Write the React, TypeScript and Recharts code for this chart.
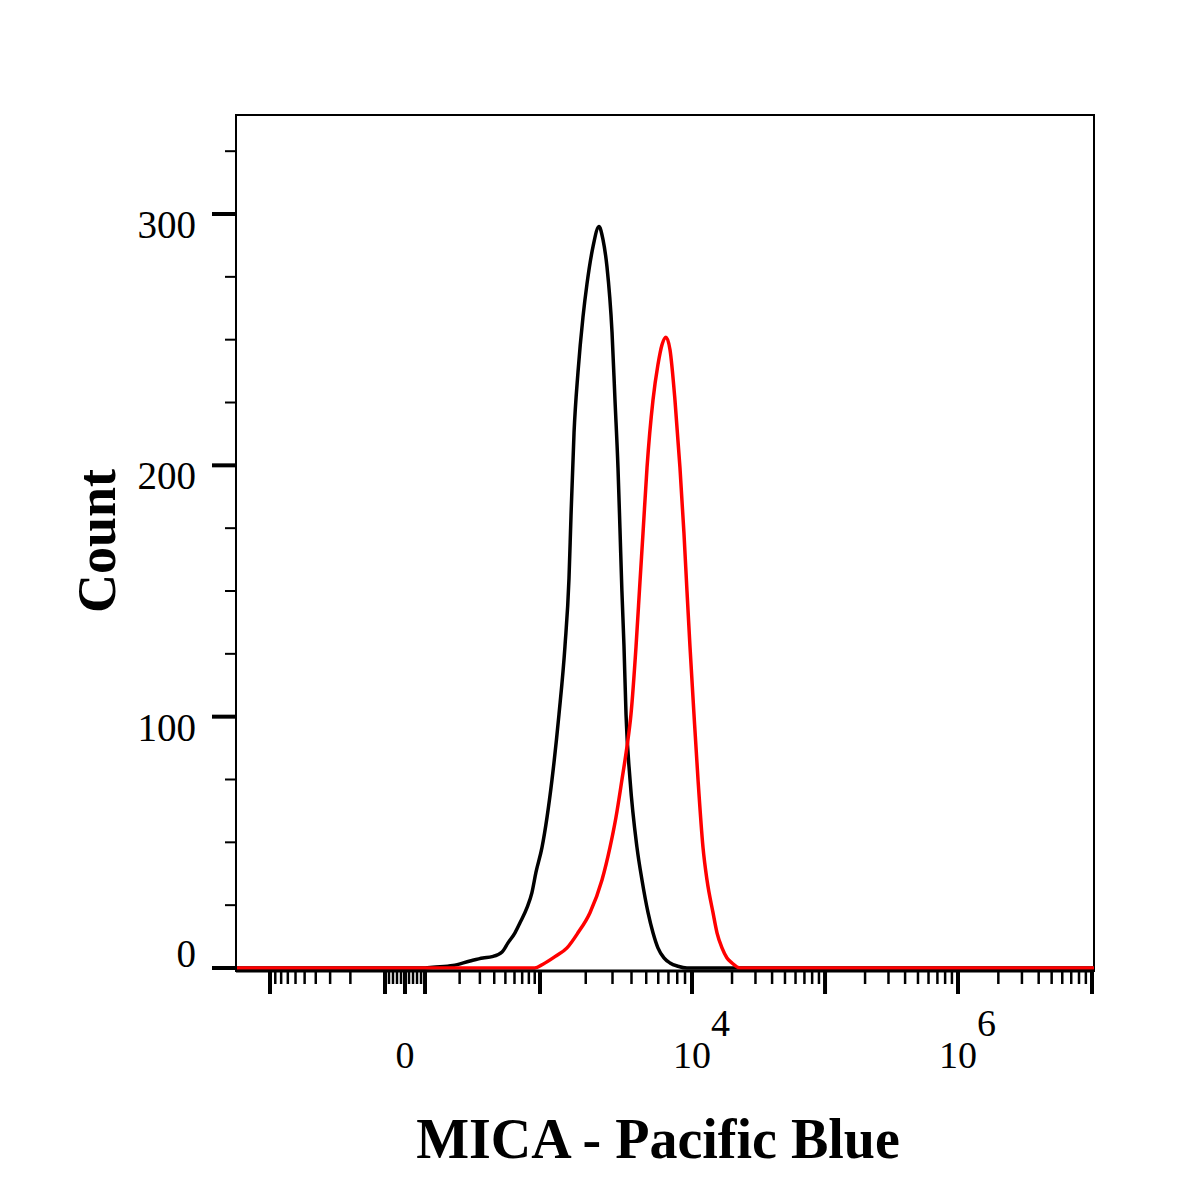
import { LineChart, Line, XAxis, YAxis, ReferenceArea } from "recharts";

// layout (chart box starts at the 8px body margin)
const W = 1192;
const H = 1192;
const PLOT_LEFT = 228;
const PLOT_TOP = 107;
const PLOT_RIGHT = 1086;
const PLOT_BOTTOM = 963;
const FONT = "'Liberation Serif', 'Times New Roman', serif";

// biexponential-like display: intensity -> display channel (0..1024)
const scaleAnchors: [number, number][] = [
  [-1000, 40.6],
  [-100, 177.8],
  [0, 201.7],
  [100, 225.6],
  [1000, 362.8],
  [1e4, 544.2],
  [1e5, 703.0],
  [1e6, 861.7],
  [1e7, 1021.6],
];

function toChannel(v: number) {
  let i = 0;
  while (i < scaleAnchors.length - 2 && v > scaleAnchors[i + 1][0]) i++;
  const [a, ca] = scaleAnchors[i];
  const [b, cb] = scaleAnchors[i + 1];
  let t;
  if (a * b > 0) {
    const la = Math.log10(Math.abs(a));
    const lb = Math.log10(Math.abs(b));
    t = (Math.log10(Math.abs(v)) - la) / (lb - la);
  } else {
    t = (v - a) / (b - a);
  }
  return ca + t * (cb - ca);
}

// unstained / isotype (black)
const blackIntensity = [
  -2000, 100, 117, 175, 246, 319, 383, 468, 527, 606, 670, 771, 851, 922, 1031,
  1200, 1334, 1460, 1552, 1600, 1675, 1778, 1918, 2036, 2233, 2443, 2594, 2759,
  2978, 3115, 3260, 3358, 3459, 3570, 3681, 3911, 4346, 4689, 5140, 5540, 5970,
  6540, 7167, 8090, 9270, 1.1e7,
];
const blackCount = [
  0, 0, 0.3, 1, 2.8, 4, 4.5, 6.4, 10, 14, 18, 24, 30, 38, 48, 75, 101, 128, 155,
  180, 213, 237, 259, 272, 287, 295, 290, 279, 253, 226, 199, 175, 150, 128, 101,
  75, 48, 35, 22, 14, 8, 4, 2, 0.7, 0, 0,
];

// MICA stained (red)
const redIntensity = [
  -2000, 900, 1046, 1255, 1506, 1778, 2133, 2558, 2887, 3162, 3463, 3734, 3970,
  4285, 4552, 4762, 5059, 5540, 5970, 6350, 6745, 7167, 7727, 8337, 8855, 9270,
  9700, 10350, 11100, 12100, 12970, 14390, 15420, 16810, 18330, 20000, 22960,
  1.1e7,
];
const redCount = [
  0, 0, 1.5, 4.5, 8, 14, 22, 35, 48, 60, 75, 88, 101, 128, 154, 173, 199, 226,
  240, 248, 251, 246, 226, 199, 173, 150, 128, 101, 75, 48, 35, 22, 14, 8, 4, 2,
  0, 0,
];

const xMajor = [-1000, -100, 0, 100, 1000, 1e4, 1e5, 1e6, 1e7];
const xMinor = [
  -900, -800, -700, -600, -500, -400, -300, -200,
  -80, -60, -40, -20, 20, 40, 60, 80,
  200, 300, 400, 500, 600, 700, 800, 900,
  2000, 3000, 4000, 5000, 6000, 7000, 8000, 9000,
  2e4, 3e4, 4e4, 5e4, 6e4, 7e4, 8e4, 9e4,
  2e5, 3e5, 4e5, 5e5, 6e5, 7e5, 8e5, 9e5,
  2e6, 3e6, 4e6, 5e6, 6e6, 7e6, 8e6, 9e6,
];
const xLabels: Record<number, [string, string]> = {
  0: ["0", ""],
  10000: ["10", "4"],
  1000000: ["10", "6"],
};

const yMajor = [0, 100, 200, 300];
const yTicks = [0, 25, 50, 75, 100, 125, 150, 175, 200, 225, 250, 275, 300, 325];

const X_MIN = 0;
const X_MAX = 1024;
const Y_MIN = -1.2;
const Y_MAX = 339.4;

const xTickDefs = [
  ...xMajor.map((v) => ({ v, major: true })),
  ...xMinor.map((v) => ({ v, major: false })),
].sort((a, b) => a.v - b.v);
const xTickValues = xTickDefs.map((d) => toChannel(d.v));

const blackData = blackIntensity.map((v, i) => ({ x: toChannel(v), y: blackCount[i] }));
const redData = redIntensity.map((v, i) => ({ x: toChannel(v), y: redCount[i] }));

function XTick(props: any) {
  const { x, y, index } = props;
  const def = xTickDefs[index];
  if (!def) return null;
  const label = xLabels[def.v];
  return (
    <g>
      <line
        x1={x}
        x2={x}
        y1={y}
        y2={y + (def.major ? 23 : 13)}
        stroke="#000"
        strokeWidth={def.major ? 4 : 2.5}
      />
      {label && (
        <text x={x} y={y + 97} textAnchor="middle" fontFamily={FONT} fontSize={38} fill="#000">
          {label[0]}
        </text>
      )}
      {label && label[1] && (
        <text x={x + 19} y={y + 65} textAnchor="start" fontFamily={FONT} fontSize={38} fill="#000">
          {label[1]}
        </text>
      )}
    </g>
  );
}

function YTick(props: any) {
  const { x, y, payload } = props;
  const v = payload.value;
  const major = yMajor.includes(v);
  return (
    <g>
      <line
        x1={x - (major ? 24 : 11)}
        x2={x}
        y1={y}
        y2={y}
        stroke="#000"
        strokeWidth={major ? 4 : 2}
      />
      {major && (
        <text
          x={x - 40}
          y={y + (v === 0 ? -1 : 24)}
          textAnchor="end"
          fontFamily={FONT}
          fontSize={39}
          fill="#000"
        >
          {v}
        </text>
      )}
    </g>
  );
}

function XTitle() {
  return (
    <text
      x={650}
      y={1150}
      textAnchor="middle"
      fontFamily={FONT}
      fontWeight="bold"
      fontSize={56}
      fill="#000"
    >
      MICA - Pacific Blue
    </text>
  );
}

function YTitle() {
  return (
    <text
      x={107}
      y={533}
      transform="rotate(-90 107 533)"
      textAnchor="middle"
      fontFamily={FONT}
      fontWeight="bold"
      fontSize={54}
      fill="#000"
    >
      Count
    </text>
  );
}

export default function App() {
  return (
    <LineChart
      width={W}
      height={H}
      margin={{ top: PLOT_TOP, right: W - PLOT_RIGHT, left: 0, bottom: 0 }}
      style={{ background: "#fff" }}
    >
      <XAxis
        dataKey="x"
        type="number"
        domain={[X_MIN, X_MAX]}
        allowDataOverflow
        ticks={xTickValues}
        interval={0}
        tickSize={0}
        tickMargin={0}
        tickLine={false}
        tick={<XTick />}
        axisLine={{ stroke: "#000", strokeWidth: 3 }}
        height={H - PLOT_BOTTOM}
        label={<XTitle />}
      />
      <YAxis
        type="number"
        domain={[Y_MIN, Y_MAX]}
        allowDataOverflow
        ticks={yTicks}
        interval={0}
        tickSize={0}
        tickMargin={0}
        tickLine={false}
        tick={<YTick />}
        axisLine={{ stroke: "#000", strokeWidth: 2 }}
        width={PLOT_LEFT}
        label={<YTitle />}
      />
      <ReferenceArea
        x1={X_MIN}
        x2={X_MAX}
        y1={Y_MIN}
        y2={Y_MAX}
        fill="none"
        stroke="#000"
        strokeWidth={2}
        ifOverflow="visible"
      />
      <Line
        data={blackData}
        dataKey="y"
        type="monotone"
        stroke="#000"
        strokeWidth={3.5}
        dot={false}
        isAnimationActive={false}
      />
      <Line
        data={redData}
        dataKey="y"
        type="monotone"
        stroke="#ff0000"
        strokeWidth={3.5}
        dot={false}
        isAnimationActive={false}
      />
    </LineChart>
  );
}
